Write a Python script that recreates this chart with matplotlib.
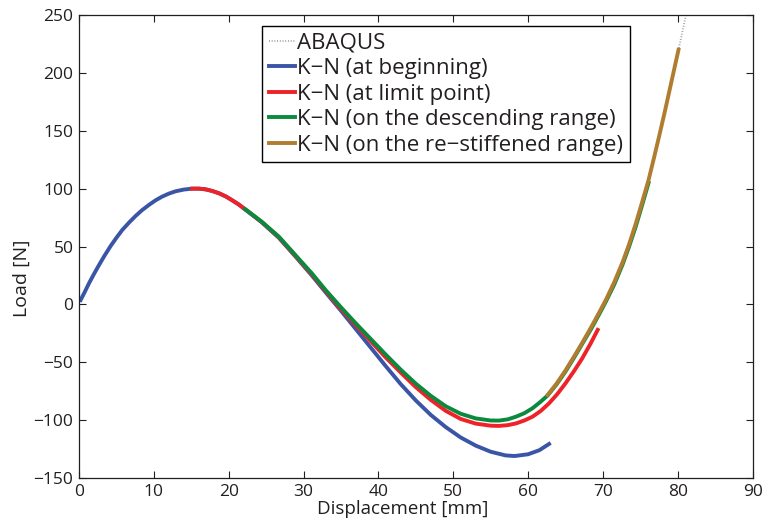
import matplotlib
matplotlib.use("Agg")
from matplotlib import pyplot as plt

plt.rcParams['font.family'] = ['Open Sans', 'DejaVu Sans']

# ABAQUS reference path (dotted)
abaqus_x = [0.0, 0.8, 1.33, 2.0, 2.67, 3.4, 4.22, 5.0, 5.78, 6.7, 7.56, 8.4, 9.33, 10.2,
            11.1, 12.0, 12.9, 14.0, 15.1, 16.0, 16.9, 17.8, 18.7, 19.6, 20.4, 21.3, 22.2,
            24.4, 26.7, 28.9, 31.1, 33.0, 35.0, 37.0, 39.0, 41.0, 43.0, 45.0, 47.0, 49.0,
            51.0, 53.0, 55.0, 56.1, 57.3, 58.4, 59.5, 60.6, 61.6, 62.6, 63.8, 65.0, 66.1,
            67.2, 68.4, 69.5, 70.4, 71.5, 72.6, 73.5, 74.4, 75.2, 76.1, 76.8, 77.5, 78.2,
            78.8, 79.5, 80.1, 80.6, 81.1]
abaqus_y = [0.0, 11.2, 18.2, 26.3, 34, 42, 50.4, 57.6, 64.3, 70.8, 76.4, 81.3, 85.9, 89.8,
            93.1, 95.7, 97.7, 99.2, 100, 100, 99.4, 98, 96, 93.3, 90.2, 86.5, 82.2,
            71.5, 58.5, 42.7, 26.9, 12, -2.5, -16.5, -30, -43.5, -56.5, -68.5, -79, -88,
            -94.5, -98.5, -100, -100, -99, -96.5, -93.5, -89.2, -84.2, -78.5, -68.7, -57.3, -46,
            -34, -20.5, -7.5, 3.5, 18.5, 35.5, 51.5, 69.5, 87, 107, 126, 145, 164.5,
            182, 202.5, 220, 235, 250]

# K-N (at beginning)
blue_x = [0.22, 0.8, 1.33, 2.0, 2.67, 3.4, 4.22, 5.0, 5.78, 6.7, 7.56, 8.4, 9.33, 10.2,
          11.1, 12.0, 12.9, 14.0, 15.1, 16.0, 16.9, 17.8, 18.7, 19.6, 20.4, 21.3, 22.2,
          24.4, 26.7, 28.9, 31.1, 33.0, 35.0, 37.0, 39.0, 41.0, 43.0, 45.0, 47.0, 49.0,
          51.0, 53.0, 55.0, 57.0, 58.2, 60.0, 61.5, 62.8]
blue_y = [3.8, 11.2, 18.2, 26.3, 34, 42, 50.4, 57.6, 64.3, 70.8, 76.4, 81.3, 85.9, 89.8,
          93.1, 95.7, 97.7, 99.2, 100, 100, 99.4, 98, 96, 93.3, 90.2, 86.5, 82,
          71, 57.5, 41.5, 25, 10, -5.5, -21.5, -37.5, -53.5, -69, -83, -95.5, -106,
          -115, -122, -127.3, -130.5, -131, -129.5, -126, -120.6]

# K-N (at limit point)
red_x = [15.1, 16.0, 16.9, 17.8, 18.7, 19.6, 20.4, 21.3, 22.2, 24.4, 26.7, 28.9, 31.1, 33.0,
         35.0, 37.0, 39.0, 41.0, 43.0, 45.0, 47.0, 49.0, 51.0, 53.0, 55.0, 56.1, 57.3, 58.4,
         59.5, 60.6, 61.7, 62.8, 63.9, 65.0, 66.1, 67.2, 68.3, 69.3]
red_y = [100, 100, 99.4, 98, 96, 93.3, 90.2, 86.5, 82.2, 71.3, 58, 42, 26, 11,
         -4, -18, -32, -46, -59, -71.5, -82.5, -92, -99, -103, -104.8, -105, -104.3, -102.8,
         -100.3, -97, -92, -85.5, -77.5, -68.2, -58, -47, -34.5, -22]

# K-N (on the descending range)
green_x = [22.2, 24.4, 26.7, 28.9, 31.1, 33.0, 35.0, 37.0, 39.0, 41.0, 43.0, 45.0, 47.0, 49.0,
           51.0, 53.0, 55.0, 56.1, 57.3, 58.4, 59.5, 60.6, 61.6, 62.6, 63.8, 65.0, 66.1, 67.2,
           68.4, 69.5, 70.4, 71.5, 72.6, 73.5, 74.4, 75.2, 76.1]
green_y = [82.2, 71.5, 58.5, 42.7, 26.9, 12, -2.5, -16.5, -30, -43.5, -56.5, -68.5, -79, -88,
           -94.5, -98.5, -100.3, -100.4, -99.3, -97, -94, -89.7, -84.5, -78.8, -69.2, -58, -46.5,
           -34.5, -21.5, -8.5, 2.5, 17, 34, 50, 67.5, 85, 105]

# K-N (on the re-stiffened range)
brown_x = [62.6, 63.8, 65.0, 66.1, 67.2, 68.4, 69.5, 70.4, 71.5, 72.6, 73.5, 74.4, 75.2, 76.1,
           76.8, 77.5, 78.2, 78.8, 79.5, 80.1]
brown_y = [-78.3, -68.5, -57, -45.5, -33.6, -20, -7, 4, 19, 36, 52, 70, 87.5, 107.5,
           126, 145, 164.5, 182, 202.5, 220]

labels = ['ABAQUS', 'K\u2212N (at beginning)', 'K\u2212N (at limit point)',
          'K\u2212N (on the descending range)', 'K\u2212N (on the re\u2212stiffened range)']

txt = '#231f20'
fig = plt.figure(figsize=(7.65, 5.29), dpi=100)
ax = fig.add_axes([0.1033, 0.0964, 0.8805, 0.8752])

ax.plot(abaqus_x, abaqus_y, color='#999999', lw=1.3, ls=(0, (0.5, 1.0)), label=labels[0], zorder=1)
ax.plot(blue_x, blue_y, color='#3a55a5', lw=2.8, label=labels[1], zorder=2)
ax.plot(red_x, red_y, color='#ee2229', lw=2.8, label=labels[2], zorder=3)
ax.plot(green_x, green_y, color='#0b8a3e', lw=2.8, label=labels[3], zorder=4)
ax.plot(brown_x, brown_y, color='#b07d30', lw=2.8, label=labels[4], zorder=5)

ax.set_xlim(0, 90)
ax.set_ylim(-150, 250)
ax.set_xticks(range(0, 91, 10))
ax.set_yticks(range(-150, 251, 50))
ax.tick_params(direction='in', length=5, width=0.8, top=True, right=True,
               labelsize=12.5, colors=txt, pad=4)
for s in ax.spines.values():
    s.set_linewidth(0.9)
    s.set_color(txt)

ax.set_xlabel('Displacement [mm]', fontsize=13.5, color=txt, labelpad=0)
ax.set_ylabel('Load [N]', fontsize=14, color=txt, labelpad=2)
ax.xaxis.label.set_x(0.48)
ax.yaxis.label.set_y(0.432)

leg = ax.legend(loc='upper left', bbox_to_anchor=(0.2715, 0.976), fontsize=16,
                frameon=True, fancybox=False, framealpha=1, edgecolor='black',
                handlelength=1.2, handletextpad=0.1, borderpad=0.3,
                labelspacing=0.2, borderaxespad=0)
leg.get_frame().set_linewidth(1.0)
for t in leg.get_texts():
    t.set_color(txt)

fig.savefig('out.png', dpi=100)
